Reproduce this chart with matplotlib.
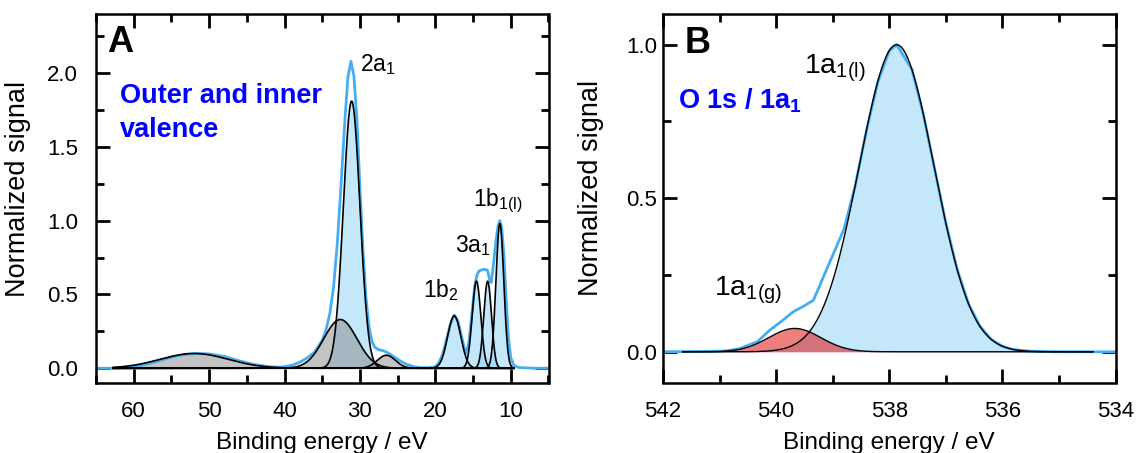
import numpy as np
import matplotlib.pyplot as plt
from matplotlib.ticker import MultipleLocator, FormatStrFormatter

plt.rcParams['font.family'] = ['Liberation Sans', 'DejaVu Sans']
plt.rcParams['mathtext.fontset'] = 'custom'
plt.rcParams['mathtext.rm'] = 'Liberation Sans'
plt.rcParams['mathtext.it'] = 'Liberation Sans:italic'
plt.rcParams['mathtext.bf'] = 'Liberation Sans:bold'

# ---- Panel A: outer and inner valence ----
# measured spectrum, binding energy (eV) vs normalized signal
val_E = np.array([65.0, 63.0, 61.0, 59.0, 57.0, 55.0, 53.0, 51.5, 50.0, 48.0,
                  46.0, 44.0, 42.0, 40.5, 39.0, 38.0, 37.0, 36.0, 35.0, 34.5,
                  34.0, 33.5, 33.0, 32.5, 32.0, 31.6, 31.2, 30.8, 30.4, 30.0,
                  29.6, 29.2, 28.8, 28.4, 28.0, 27.5, 27.0, 26.5, 26.0, 25.0,
                  24.0, 23.0, 22.0, 21.0, 20.0, 19.5, 19.0, 18.5, 18.0, 17.5,
                  17.0, 16.5, 16.0, 15.6, 15.2, 14.8, 14.5, 14.2, 13.6, 13.1,
                  12.8, 12.6, 12.3, 12.0, 11.7, 11.45, 11.2, 10.9, 10.6, 10.3,
                  10.0, 9.6, 9.0, 7.0, 5.0])
val_I = np.array([0.0, 0.0, 0.005, 0.02, 0.045, 0.075, 0.095, 0.10, 0.097, 0.08,
                  0.05, 0.025, 0.01, 0.007, 0.02, 0.04, 0.07, 0.11, 0.19, 0.26,
                  0.37, 0.55, 0.85, 1.25, 1.68, 1.97, 2.08, 1.98, 1.68, 1.22,
                  0.80, 0.48, 0.28, 0.18, 0.14, 0.125, 0.12, 0.11, 0.095, 0.06,
                  0.03, 0.012, 0.004, 0.003, 0.01, 0.04, 0.10, 0.20, 0.30, 0.36,
                  0.32, 0.21, 0.10, 0.16, 0.35, 0.55, 0.63, 0.66, 0.67, 0.665,
                  0.60, 0.58, 0.70, 0.85, 0.96, 1.0, 0.95, 0.76, 0.45, 0.20,
                  0.07, 0.02, 0.005, 0.0, 0.0])

# fitted Gaussian components: centre (eV), height, sigma (eV)
val_blue_center = [31.1, 17.5, 14.55, 13.07, 11.45]
val_blue_height = [1.81, 0.355, 0.59, 0.59, 0.98]
val_blue_sigma = [1.1, 0.88, 0.57, 0.51, 0.52]
val_grey_center = [52.0, 32.6, 26.5]
val_grey_height = [0.10, 0.33, 0.088]
val_grey_sigma = [4.5, 2.2, 1.2]

# ---- Panel B: O 1s / 1a1 ----
core_E = np.array([542.0, 541.0, 540.9, 540.65, 540.33, 540.11, 539.9, 539.7,
                   539.5, 539.34, 539.15, 538.96, 538.8, 538.6, 538.4, 538.2,
                   538.0, 537.87, 537.6, 537.4, 537.2, 537.0, 536.8, 536.6,
                   536.4, 536.2, 536.0, 535.8, 535.5, 535.0, 534.0])
core_I = np.array([0.0, 0.002, 0.003, 0.01, 0.033, 0.071, 0.10, 0.13,
                   0.15, 0.168, 0.25, 0.331, 0.40, 0.542, 0.724, 0.88,
                   0.98, 1.0, 0.92, 0.776, 0.597, 0.42, 0.269, 0.157,
                   0.084, 0.041, 0.018, 0.007, 0.002, 0.0, 0.0])

core_liq = (537.87, 1.0, 0.66)    # 1a1(l): centre, height, sigma
core_gas = (539.67, 0.076, 0.46)  # 1a1(g)

line_blue = '#45aef0'
fill_blue = '#8bd1f7'
fill_grey = '#888888'
fill_red = '#e00000'


def gauss(x, c, h, s):
    return h * np.exp(-(x - c) ** 2 / (2 * s ** 2))


def component(ax, x, c, h, s, color, lw=1.0):
    y = gauss(x, c, h, s)
    ax.fill_between(x, 0, y, color=color, alpha=0.5, linewidth=0)
    ax.plot(x, y, color='black', lw=lw)


fig = plt.figure(figsize=(11.37, 4.53), dpi=100)
axA = fig.add_axes([96 / 1137, 1 - 383 / 453, 452.5 / 1137, 369 / 453])
axB = fig.add_axes([663 / 1137, 1 - 382.5 / 453, 452.5 / 1137, 368.5 / 453])

# panel A
xa = np.linspace(62.7, 9.6, 1200)
axA.plot(val_E, val_I, color=line_blue, lw=2.0)
for c, h, s in zip(val_blue_center, val_blue_height, val_blue_sigma):
    component(axA, xa, c, h, s, fill_blue, lw=1.2)
for c, h, s in zip(val_grey_center, val_grey_height, val_grey_sigma):
    component(axA, xa, c, h, s, fill_grey, lw=1.2)

axA.set_xlim(65, 5)
axA.set_ylim(-0.1, 2.4)
axA.xaxis.set_major_locator(MultipleLocator(10))
axA.xaxis.set_minor_locator(MultipleLocator(5))
axA.yaxis.set_major_locator(MultipleLocator(0.5))
axA.yaxis.set_minor_locator(MultipleLocator(0.25))
axA.yaxis.set_major_formatter(FormatStrFormatter('%.1f'))

axA.text(63.5, 2.14, 'A', fontsize=26, fontweight='bold')
axA.text(61.85, 1.80, 'Outer and inner', fontsize=19.5, fontweight='bold', color='#0000ff')
axA.text(61.85, 1.565, 'valence', fontsize=19.5, fontweight='bold', color='#0000ff')
axA.text(30.05, 2.01, r'2a$_\mathregular{1}$', fontsize=16.5)
axA.text(17.39, 0.786, r'3a$_\mathregular{1}$', fontsize=16.5)
axA.text(21.6, 0.48, r'1b$_\mathregular{2}$', fontsize=16.5)
axA.text(14.95, 1.10, r'1b$_\mathregular{1(l)}$', fontsize=16.5)

# panel B
xb = np.linspace(541.65, 534.4, 1000)
axB.plot(core_E, core_I, color=line_blue, lw=2.0)
component(axB, xb, *core_liq, fill_blue)
component(axB, xb, *core_gas, fill_red)

axB.set_xlim(542, 534)
axB.set_ylim(-0.1, 1.1)
axB.xaxis.set_major_locator(MultipleLocator(2))
axB.xaxis.set_minor_locator(MultipleLocator(1))
axB.yaxis.set_major_locator(MultipleLocator(0.5))
axB.yaxis.set_minor_locator(MultipleLocator(0.25))
axB.yaxis.set_major_formatter(FormatStrFormatter('%.1f'))

axB.text(541.61, 0.972, 'B', fontsize=26, fontweight='bold')
axB.text(541.73, 0.793, r'O 1s / 1a$_\mathbf{1}$', fontsize=19.5, fontweight='bold', color='#0000ff')
axB.text(539.51, 0.906, r'1a$_\mathregular{1(l)}$', fontsize=20.5)
axB.text(541.09, 0.184, r'1a$_\mathregular{1(g)}$', fontsize=20.5)

for ax in (axA, axB):
    ax.tick_params(which='both', direction='in', top=True, right=True, width=2, labelsize=16)
    ax.tick_params(which='major', length=10)
    ax.tick_params(which='minor', length=5.5)
    ax.tick_params(axis='x', pad=13)
    for sp in ax.spines.values():
        sp.set_linewidth(1.8)
    ax.set_xlabel('Binding energy / eV', fontsize=17.5)
    ax.set_ylabel('Normalized signal', fontsize=19.5)
    ax.xaxis.set_label_coords(0.5, -0.133)

axA.tick_params(axis='y', pad=13)
axB.tick_params(axis='y', pad=4.5)
axA.yaxis.set_label_coords(-0.144, 0.527)
axB.yaxis.set_label_coords(-0.130, 0.527)

fig.savefig('out.png', dpi=100)
